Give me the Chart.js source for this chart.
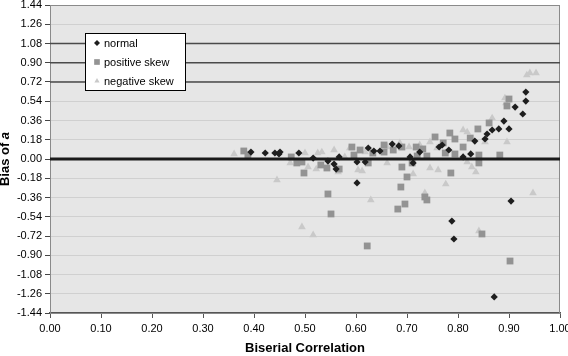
<!DOCTYPE html>
<html lang="en">
<head>
  <meta charset="UTF-8">
  <title>Bias of a vs Biserial Correlation</title>
  <script src="https://cdn.jsdelivr.net/npm/chart.js"></script>
  <style>
    body { margin: 0; background: #fff; }
    #wrap { width: 568px; height: 356px; }
  </style>
</head>
<body>
  <div id="wrap"><canvas id="chart" width="568" height="356"></canvas></div>

  <script>
    // tick values
    const xTicks = [0, 0.1, 0.2, 0.3, 0.4, 0.5, 0.6, 0.7, 0.8, 0.9, 1.0];
    const yTicks = [-1.44, -1.26, -1.08, -0.90, -0.72, -0.54, -0.36, -0.18, 0,
                    0.18, 0.36, 0.54, 0.72, 0.90, 1.08, 1.26, 1.44];
    // horizontal reference lines
    const refLevels = [0.72, 0.90, 1.08];
    const zeroLevel = 0;

    const seriesNames = ['normal', 'positive skew', 'negative skew'];

    // [biserial correlation, bias]
    const normalPts = [
      [0.394, 0.065], [0.422, 0.056], [0.441, 0.056], [0.449, 0.047], [0.451, 0.065],
      [0.488, 0.056], [0.516, 0.009], [0.545, -0.019], [0.557, -0.047], [0.561, -0.094],
      [0.567, 0.019], [0.602, -0.028], [0.602, -0.224], [0.618, -0.028], [0.624, 0.103],
      [0.635, 0.075], [0.647, 0.075], [0.671, 0.140], [0.684, 0.122], [0.706, 0.019],
      [0.712, -0.037], [0.725, 0.065], [0.763, 0.112], [0.769, 0.131], [0.782, 0.084],
      [0.810, 0.019], [0.825, 0.047], [0.833, 0.168], [0.853, 0.187], [0.857, 0.234],
      [0.867, 0.271], [0.880, 0.281], [0.890, 0.355], [0.900, 0.281], [0.912, 0.486],
      [0.927, 0.421], [0.933, 0.542], [0.933, 0.626], [0.904, -0.393], [0.788, -0.580],
      [0.792, -0.748], [0.871, -1.290]
    ];
    const positivePts = [
      [0.380, 0.075], [0.388, 0.037], [0.473, 0.019], [0.484, -0.037], [0.494, -0.028],
      [0.498, -0.131], [0.531, -0.056], [0.543, -0.084], [0.545, -0.327], [0.551, -0.514],
      [0.567, -0.094], [0.592, 0.112], [0.596, 0.037], [0.622, -0.813], [0.624, -0.037],
      [0.633, 0.056], [0.655, 0.131], [0.673, 0.084], [0.690, 0.112], [0.690, -0.075],
      [0.700, -0.168], [0.688, -0.262], [0.696, -0.421], [0.682, -0.468], [0.718, 0.112],
      [0.720, 0.028], [0.739, 0.028], [0.755, 0.206], [0.735, -0.355], [0.739, -0.383],
      [0.771, 0.150], [0.775, 0.056], [0.784, 0.243], [0.786, -0.131], [0.794, 0.187],
      [0.794, 0.047], [0.810, 0.112], [0.824, 0.196], [0.839, 0.281], [0.841, 0.037],
      [0.841, -0.037], [0.847, -0.701], [0.861, 0.337], [0.882, 0.037], [0.896, 0.496],
      [0.900, 0.561], [0.902, -0.954], [0.710, -0.037], [0.731, 0.094], [0.655, 0.065],
      [0.608, 0.084]
    ];
    const negativePts = [
      [0.361, 0.047], [0.445, -0.196], [0.494, -0.636], [0.516, -0.710], [0.471, -0.037],
      [0.500, 0.056], [0.506, -0.075], [0.522, -0.094], [0.525, 0.056], [0.533, 0.065],
      [0.557, 0.084], [0.565, -0.122], [0.604, -0.103], [0.612, -0.112], [0.629, -0.383],
      [0.661, 0.112], [0.661, -0.037], [0.704, 0.112], [0.712, -0.140], [0.735, -0.318],
      [0.745, -0.084], [0.761, -0.103], [0.776, -0.234], [0.745, 0.159], [0.759, 0.103],
      [0.810, 0.271], [0.818, 0.252], [0.853, 0.159], [0.818, -0.028], [0.827, -0.075],
      [0.835, -0.122], [0.841, -0.673], [0.867, 0.383], [0.892, 0.570], [0.894, 0.524],
      [0.896, 0.159], [0.935, 0.785], [0.941, 0.804], [0.953, 0.804], [0.947, -0.318],
      [0.588, 0.103], [0.618, 0.065], [0.686, 0.150], [0.725, 0.131], [0.578, 0.019]
    ];

    const FONT = "'Liberation Sans', Arial, sans-serif";
    const toXY = pts => pts.map(p => ({ x: p[0], y: p[1] }));
    const hLine = v => [{ x: xTicks[0], y: v }, { x: xTicks[xTicks.length - 1], y: v }];

    const markerStyles = [
      { style: 'rectRot', color: '#1e1e1e', radius: 3.6 },
      { style: 'rect', color: '#939393', radius: 4.8 },
      { style: 'triangle', color: '#c9c9c9', radius: 4.4 }
    ];

    function marker(ctx, m, x, y, r) {
      ctx.fillStyle = m.color;
      ctx.beginPath();
      if (m.style === 'rectRot') {
        ctx.moveTo(x, y - r); ctx.lineTo(x + r, y); ctx.lineTo(x, y + r); ctx.lineTo(x - r, y);
      } else if (m.style === 'rect') {
        const s = r * Math.SQRT1_2;
        ctx.rect(x - s, y - s, 2 * s, 2 * s);
      } else {
        const h = r * 0.866;
        ctx.moveTo(x, y - r); ctx.lineTo(x + h, y + r / 2); ctx.lineTo(x - h, y + r / 2);
      }
      ctx.closePath();
      ctx.fill();
    }

    // plot area fill and border
    const plotArea = {
      id: 'plotArea',
      beforeDraw(chart) {
        const { ctx, chartArea: a } = chart;
        ctx.save();
        ctx.fillStyle = '#e6e6e6';
        ctx.fillRect(a.left, a.top, a.right - a.left, a.bottom - a.top);
        ctx.restore();
      },
      beforeDatasetsDraw(chart) {
        const { ctx, chartArea: a } = chart;
        ctx.save();
        ctx.strokeStyle = '#8a8a8a';
        ctx.lineWidth = 1;
        ctx.strokeRect(a.left + 0.5, a.top + 0.5, a.right - a.left - 1, a.bottom - a.top);
        ctx.restore();
      }
    };

    // axis titles and the inset legend
    const extras = {
      id: 'extras',
      afterDraw(chart) {
        const { ctx, chartArea: a } = chart;
        ctx.save();
        ctx.fillStyle = '#000';
        ctx.textBaseline = 'middle';

        // x title
        ctx.font = 'bold 13px ' + FONT;
        ctx.textAlign = 'center';
        ctx.fillText('Biserial Correlation', (a.left + a.right) / 2, 348);

        // y title, "a" in italics
        const part1 = 'Bias of ';
        ctx.font = 'bold 13px ' + FONT;
        const w1 = ctx.measureText(part1).width;
        ctx.font = 'italic bold 13px ' + FONT;
        const w2 = ctx.measureText('a').width;
        ctx.translate(9, (a.top + a.bottom) / 2);
        ctx.rotate(-Math.PI / 2);
        ctx.textAlign = 'left';
        ctx.textBaseline = 'alphabetic';
        ctx.font = 'bold 13px ' + FONT;
        ctx.fillText(part1, -(w1 + w2) / 2, 0);
        ctx.font = 'italic bold 13px ' + FONT;
        ctx.fillText('a', -(w1 + w2) / 2 + w1, 0);
        ctx.restore();

        // legend
        ctx.save();
        const lx = 85, ly = 33, lw = 100, lh = 57;
        ctx.fillStyle = '#fff';
        ctx.fillRect(lx, ly, lw, lh);
        ctx.strokeStyle = '#000';
        ctx.lineWidth = 1;
        ctx.strokeRect(lx + 0.5, ly + 0.5, lw, lh);
        ctx.font = '11px ' + FONT;
        ctx.textBaseline = 'middle';
        ctx.textAlign = 'left';
        seriesNames.forEach((name, i) => {
          const y = ly + 10 + i * 19;
          marker(ctx, markerStyles[i], lx + 12, y, i === 1 ? 4 : 3);
          ctx.fillStyle = '#000';
          ctx.fillText(name, lx + 19, y + 1);
        });
        ctx.restore();
      }
    };

    const datasets = [];
    refLevels.forEach(v => datasets.push({
      type: 'line', data: hLine(v), borderColor: '#4a4a4a', borderWidth: 1.5,
      pointRadius: 0, fill: false
    }));
    datasets.push({
      type: 'line', data: hLine(zeroLevel), borderColor: '#1a1a1a', borderWidth: 3,
      pointRadius: 0, fill: false
    });
    [normalPts, positivePts, negativePts].forEach((pts, i) => datasets.push({
      label: seriesNames[i],
      data: toXY(pts),
      pointStyle: markerStyles[i].style,
      pointRadius: markerStyles[i].radius,
      backgroundColor: markerStyles[i].color,
      borderColor: markerStyles[i].color,
      borderWidth: 0,
      showLine: false
    }));

    new Chart(document.getElementById('chart'), {
      type: 'scatter',
      data: { datasets },
      options: {
        responsive: false,
        animation: false,
        events: [],
        layout: { padding: { left: 0, right: 8, top: 5, bottom: 0 } },
        plugins: { legend: { display: false }, tooltip: { enabled: false } },
        scales: {
          x: {
            type: 'linear', min: 0, max: 1,
            afterBuildTicks: s => { s.ticks = xTicks.map(v => ({ value: v })); },
            afterFit: s => { s.height = 43; s.paddingLeft = 0; s.paddingRight = 0; },
            ticks: {
              callback: v => Number(v).toFixed(2),
              font: { family: FONT, size: 11 }, color: '#000', padding: 4,
              maxRotation: 0, autoSkip: false
            },
            grid: { drawOnChartArea: false, tickLength: 5, tickColor: '#555', tickWidth: 1 },
            border: { color: '#555', width: 1.5 }
          },
          y: {
            type: 'linear', min: -1.44, max: 1.44,
            afterBuildTicks: s => { s.ticks = yTicks.map(v => ({ value: v })); },
            afterFit: s => { s.width = 50; s.paddingTop = 0; s.paddingBottom = 0; },
            ticks: {
              callback: v => Number(v).toFixed(2),
              font: { family: FONT, size: 11 }, color: '#000', padding: 3,
              autoSkip: false
            },
            grid: { color: '#d0d0d0', lineWidth: 1, tickLength: 5, tickColor: '#444' },
            border: { color: '#444', width: 1 }
          }
        }
      },
      plugins: [plotArea, extras]
    });
  </script>
</body>
</html>
